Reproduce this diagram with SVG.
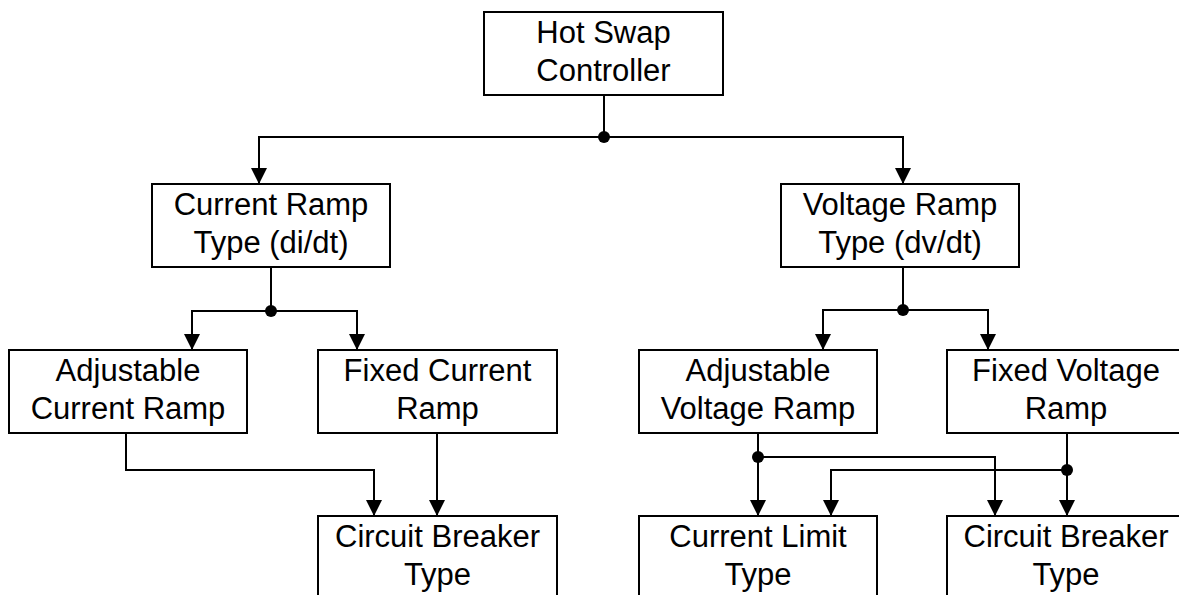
<svg xmlns="http://www.w3.org/2000/svg" width="1179" height="595" viewBox="0 0 1179 595">
<style>
rect.box{fill:#fff;stroke:#000;stroke-width:2}
text{font-family:"Liberation Sans",Arial,sans-serif;font-size:31px;fill:#000;text-anchor:middle}
.c{fill:none;stroke:#000;stroke-width:2}
.a{marker-end:url(#arr)}
.dot{fill:#000}
</style>
<defs>
<marker id="arr" viewBox="0 0 16 16" refX="16" refY="8" markerWidth="16" markerHeight="16" orient="auto" markerUnits="userSpaceOnUse">
<path d="M0,0 L16,8 L0,16 z" fill="#000"/>
</marker>
</defs>
<g id="connectors">
<path class="c" d="M604,95 V137"/>
<path class="c a" d="M604,137 H259 V184"/>
<path class="c a" d="M604,137 H903 V184"/>
<path class="c" d="M271,267 V311"/>
<path class="c a" d="M271,311 H192 V350"/>
<path class="c a" d="M271,311 H357 V350"/>
<path class="c" d="M903,267 V310"/>
<path class="c a" d="M903,310 H823 V350"/>
<path class="c a" d="M903,310 H988 V350"/>
<path class="c a" d="M126,433 V470 H374 V516"/>
<path class="c a" d="M437,433 V516"/>
<path class="c a" d="M758,433 V516"/>
<path class="c a" d="M758,457 H995 V516"/>
<path class="c a" d="M1067,433 V516"/>
<path class="c a" d="M1067,470 H831 V516"/>
<circle class="dot" cx="604" cy="137" r="6"/>
<circle class="dot" cx="271" cy="311" r="6"/>
<circle class="dot" cx="903" cy="310" r="6"/>
<circle class="dot" cx="758" cy="457" r="6"/>
<circle class="dot" cx="1067" cy="470" r="6"/>
</g>
<g id="hot-swap">
<rect class="box" x="484" y="12" width="239" height="83"/>
<text x="603.5" y="43">Hot Swap</text>
<text x="603.5" y="81">Controller</text>
</g>
<g id="current-ramp-type">
<rect class="box" x="152" y="184" width="238" height="83"/>
<text x="271" y="215">Current Ramp</text>
<text x="271" y="253">Type (di/dt)</text>
</g>
<g id="voltage-ramp-type">
<rect class="box" x="781" y="184" width="238" height="83"/>
<text x="900" y="215">Voltage Ramp</text>
<text x="900" y="253">Type (dv/dt)</text>
</g>
<g id="adj-current">
<rect class="box" x="9" y="350" width="238" height="83"/>
<text x="128" y="381">Adjustable</text>
<text x="128" y="419">Current Ramp</text>
</g>
<g id="fixed-current">
<rect class="box" x="318" y="350" width="239" height="83"/>
<text x="437.5" y="381">Fixed Current</text>
<text x="437.5" y="419">Ramp</text>
</g>
<g id="adj-voltage">
<rect class="box" x="639" y="350" width="238" height="83"/>
<text x="758" y="381">Adjustable</text>
<text x="758" y="419">Voltage Ramp</text>
</g>
<g id="fixed-voltage">
<rect class="box" x="947" y="350" width="238" height="83"/>
<text x="1066" y="381">Fixed Voltage</text>
<text x="1066" y="419">Ramp</text>
</g>
<g id="cb-left">
<rect class="box" x="318" y="516" width="239" height="83"/>
<text x="437.5" y="547">Circuit Breaker</text>
<text x="437.5" y="585">Type</text>
</g>
<g id="current-limit">
<rect class="box" x="639" y="516" width="238" height="83"/>
<text x="758" y="547">Current Limit</text>
<text x="758" y="585">Type</text>
</g>
<g id="cb-right">
<rect class="box" x="947" y="516" width="238" height="83"/>
<text x="1066" y="547">Circuit Breaker</text>
<text x="1066" y="585">Type</text>
</g>
</svg>
